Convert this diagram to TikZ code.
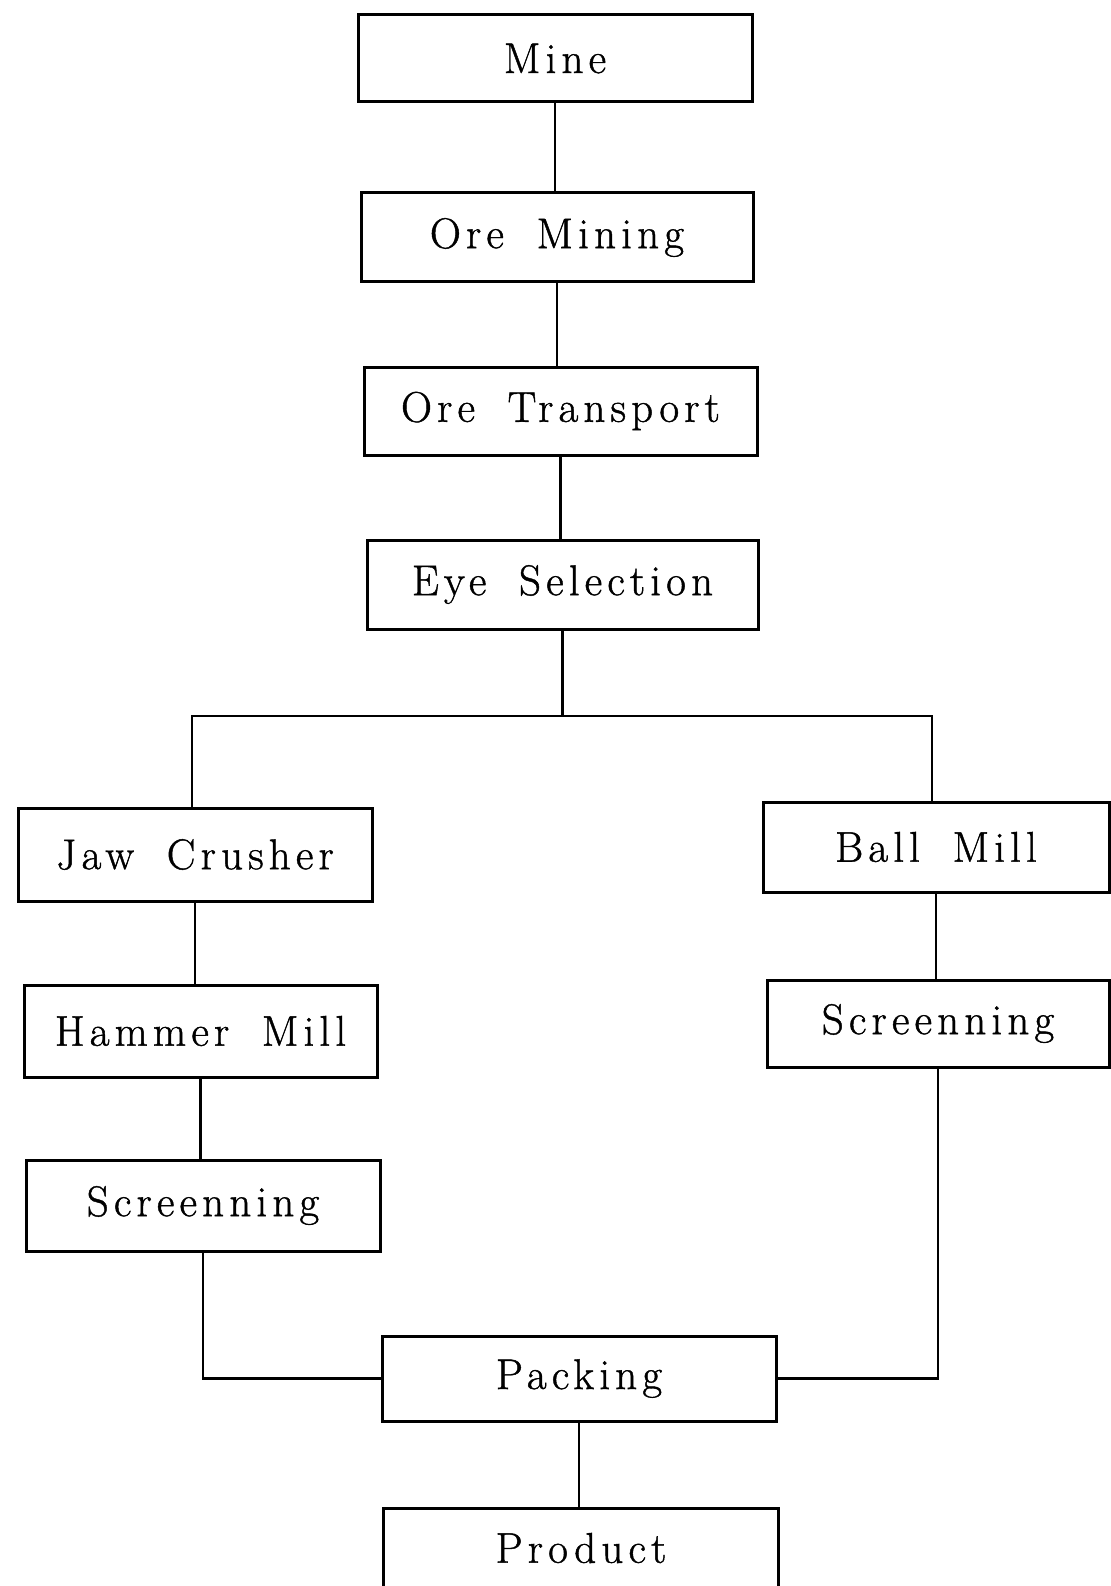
\documentclass[tikz,border=0pt]{standalone}
\usepackage{fontspec}
\newfontfamily\boxfont{Latin Modern Roman}[LetterSpace=12,WordSpace=1.8,FakeBold=1]
\tikzset{
  stepbox/.style={draw=black, line width=3pt, rectangle, inner sep=0pt, anchor=center,
    font=\boxfont\fontsize{43}{50}\selectfont},
  link/.style={draw=black, line width=2.8pt},
  boxline/.style={draw=black, line width=3pt}
}
\begin{document}
\begin{tikzpicture}[x=1pt,y=-1pt]
\useasboundingbox[fill=white] (0,0) rectangle (1110,1586);
\node[stepbox, minimum width=394pt, minimum height=87pt] (mine) at (555,58.5) {Mine};
\node[stepbox, minimum width=392pt, minimum height=89pt] (mining) at (557,237.5) {Ore Mining};
\node[stepbox, minimum width=393pt, minimum height=88pt] (transport) at (560.5,411) {Ore Transport};
\node[stepbox, minimum width=391pt, minimum height=89pt] (eye) at (562.5,584.5) {Eye Selection};
\node[stepbox, minimum width=354pt, minimum height=93pt] (jaw) at (195,854.5) {Jaw Crusher};
\node[stepbox, minimum width=353pt, minimum height=92pt] (hammer) at (200.5,1031) {Hammer Mill};
\node[stepbox, minimum width=354pt, minimum height=91pt] (screenL) at (203,1205.5) {Screenning};
\node[stepbox, minimum width=346pt, minimum height=90pt] (ball) at (936,847) {Ball Mill};
\node[stepbox, minimum width=342pt, minimum height=87pt] (screenR) at (938,1023.5) {Screenning};
\node[stepbox, minimum width=394pt, minimum height=85pt] (packing) at (579,1378.5) {Packing};
\node[stepbox, draw=none, minimum width=392pt, minimum height=76pt] (product) at (581,1548) {Product};
\draw[boxline] (product.south west) -- (product.north west) -- (product.north east) -- (product.south east);
\coordinate (jl) at (192,716);
\coordinate (jr) at (932,716);
\draw[link] (mine.south) -- (mine.south |- mining.north);
\draw[link] (mining.south) -- (mining.south |- transport.north);
\draw[link] (transport.south) -- (transport.south |- eye.north);
\draw[link] (eye.south) -- (eye.south |- jl);
\draw[link] (jaw.north -| jl) -- (jl) -- (jr) -- (ball.north -| jr);
\draw[link] (jaw.south) -- (jaw.south |- hammer.north);
\draw[link] (hammer.south) -- (hammer.south |- screenL.north);
\draw[link] (screenL.south) |- (packing.west);
\draw[link] (ball.south) -- (ball.south |- screenR.north);
\draw[link] (screenR.south) |- (packing.east);
\draw[link] (packing.south) -- (packing.south |- product.north);
\end{tikzpicture}
\end{document}
